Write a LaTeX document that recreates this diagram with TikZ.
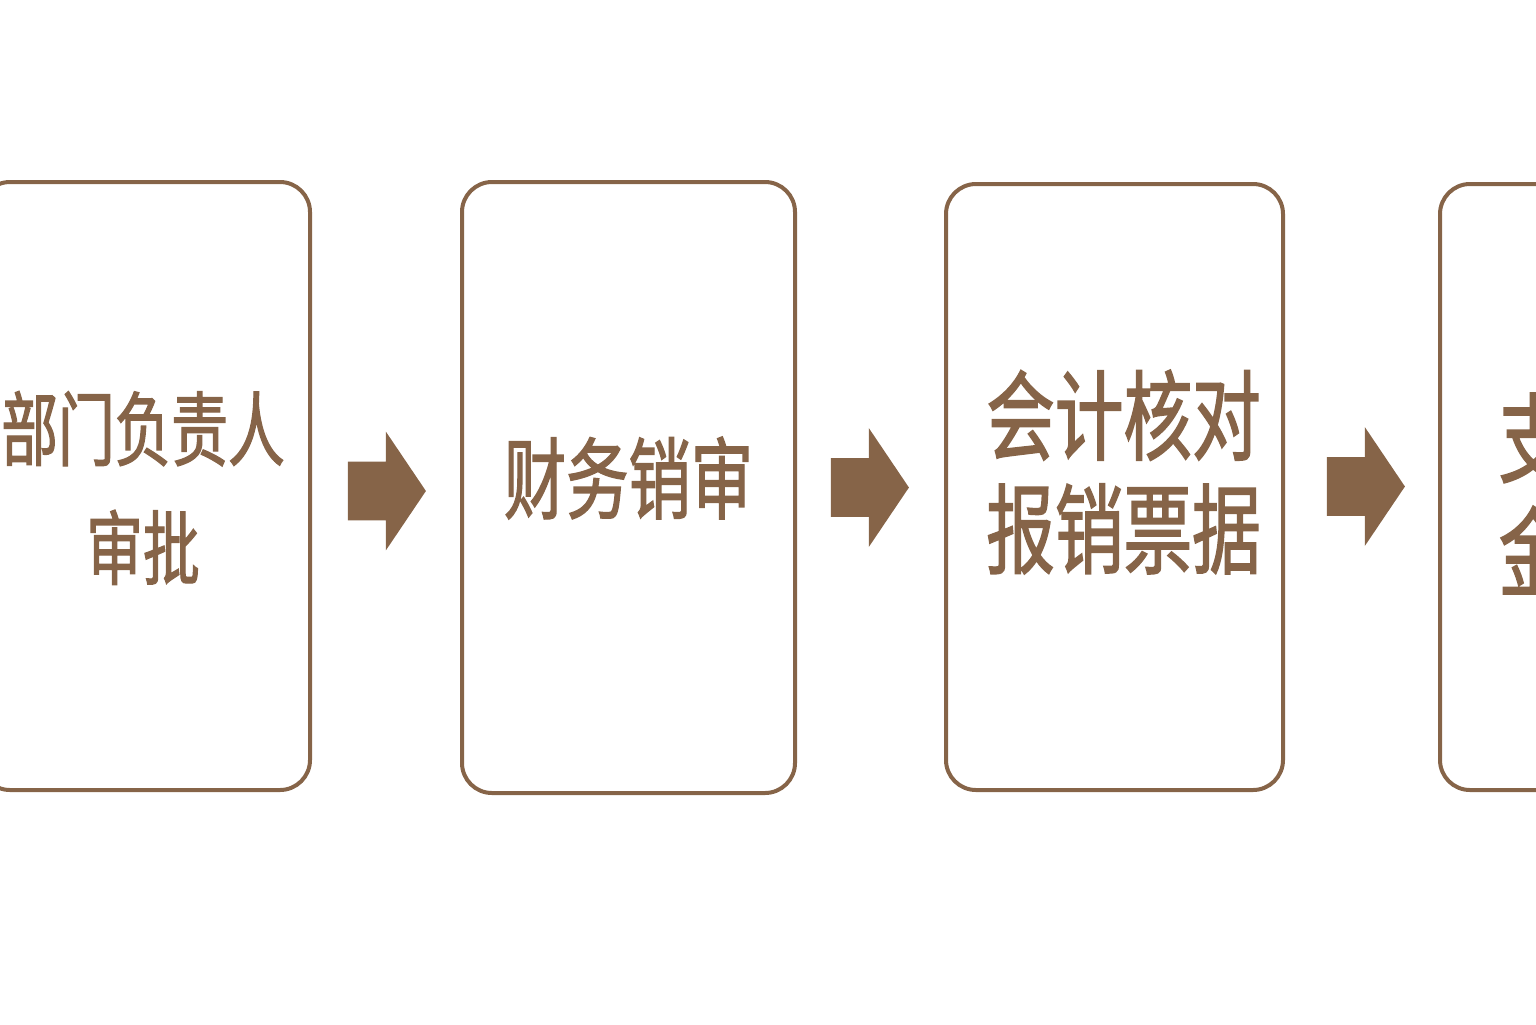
\documentclass[tikz,border=0pt]{standalone}
\usepackage{fontspec}
\newfontfamily\cjk[FakeStretch=0.7,FakeBold=1.5]{Noto Sans CJK SC}
\usetikzlibrary{shapes.arrows}
\definecolor{brn}{RGB}{134,100,72}

\begin{document}
\begin{tikzpicture}[x=0.5pt,y=-0.5pt,inner sep=0pt,
		stepbox/.style={draw=brn,line width=2pt,rounded corners=15pt},
		flowarrow/.style={single arrow,fill=brn,inner xsep=0pt,inner ysep=14.5pt,minimum height=39pt,
			single arrow head extend=15pt,single arrow tip angle=112},
		steptext/.style={text=brn,align=center}]
	
	\useasboundingbox (0,0) rectangle (1536,1024);
	\clip (0,0) rectangle (1536,1024);
	
	\foreach \n/\x/\y/\w/\h in {1/145/486/165/304, 2/628.5/487.5/166.5/305.5, 3/1114.5/487/168.5/303, 4/1608.5/487/168.5/303}{
		\node at (\x,\y) [stepbox,minimum width=\w pt,minimum height=\h pt] (b\n) {};
	};
	
	\foreach \n/\x/\y in {1/377/491, 2/860/487.5, 3/1356/486.5}{
		\node at (\x,\y) [flowarrow] (a\n) {};
	};
	
	\node at (143,488) [steptext,font=\cjk\fontsize{40.5}{59.5}\selectfont] (t1) {部门负责人\\审批};
	\node at (628.5,478) [steptext,font=\cjk\fontsize{44.5}{60}\selectfont] (t2) {财务销审};
	\node at (1123.5,472) [steptext,font=\cjk\fontsize{49}{56.75}\selectfont] (t3) {会计核对\\报销票据};
	\node at (1636,495) [steptext,font=\cjk\fontsize{49}{57}\selectfont] (t4) {支付报销\\金额款项};
	
\end{tikzpicture}
\end{document}
